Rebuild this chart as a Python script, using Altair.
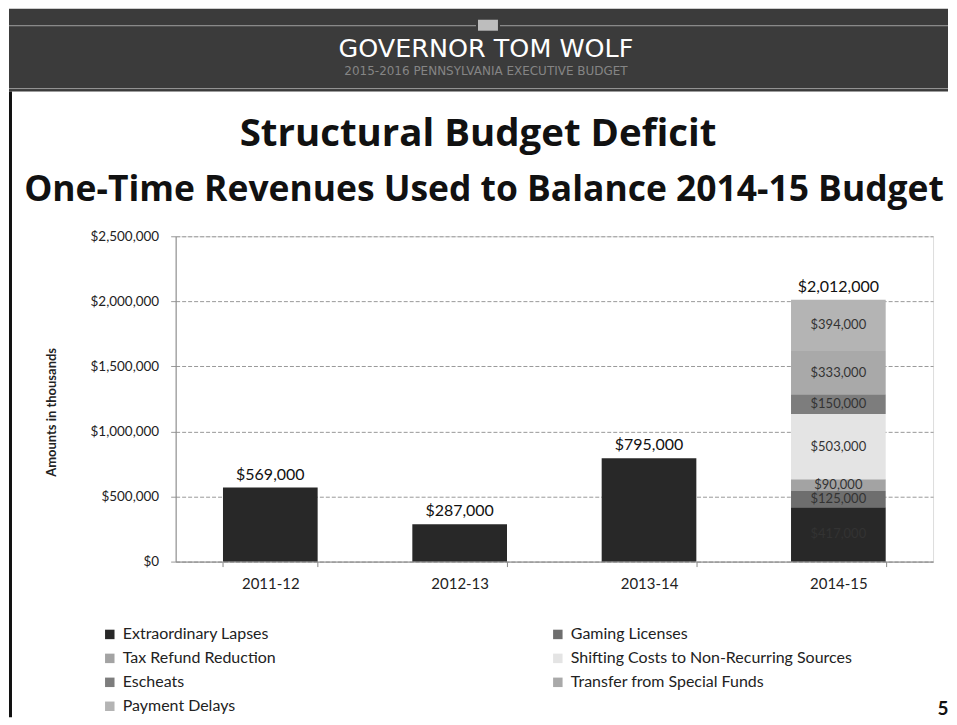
import altair as alt
import pandas as pd

years = ["2011-12", "2012-13", "2013-14", "2014-15"]
# stacking order (bottom to top) of the 2014-15 bar
sources = ["Extraordinary Lapses", "Gaming Licenses", "Tax Refund Reduction",
           "Shifting Costs to Non-Recurring Sources", "Escheats",
           "Transfer from Special Funds", "Payment Delays"]
colors = ["#282828", "#6e6e6e", "#a3a3a3", "#e4e4e4", "#7d7d7d", "#a9a9a9", "#b4b4b4"]
# legend order (column by column, as laid out in the legend)
legend_order = ["Extraordinary Lapses", "Tax Refund Reduction", "Escheats", "Payment Delays",
                "Gaming Licenses", "Shifting Costs to Non-Recurring Sources",
                "Transfer from Special Funds"]
lapses_earlier = [569000, 287000, 795000]
values_2014_15 = [417000, 125000, 90000, 503000, 150000, 333000, 394000]
y_ticks = [0, 500000, 1000000, 1500000, 2000000, 2500000]

header_title = "GOVERNOR TOM WOLF"
header_sub = "2015-2016 PENNSYLVANIA EXECUTIVE BUDGET"
main_title = "Structural Budget Deficit"
sub_title = "One-Time Revenues Used to Balance 2014-15 Budget"
page_no = "5"

rows = []
for yr, v in zip(years[:3], lapses_earlier):
    rows.append({"year": yr, "source": sources[0], "value": v, "order": 0})
for i, (s, v) in enumerate(zip(sources, values_2014_15)):
    rows.append({"year": years[3], "source": s, "value": v, "order": i})
df = pd.DataFrame(rows)

legend_colors = [colors[sources.index(s)] for s in legend_order]

FONT = "Lato"
W, H = 759, 326
y_scale = alt.Scale(domain=[0, 2500000], nice=False, zero=True)
x_scale = alt.Scale(paddingInner=0.5, paddingOuter=0.25)
Y_TITLE = "Amounts in thousands"

x_axis = alt.Axis(title=None, labelFontSize=15, labelColor="#222", labelFont=FONT,
                  labelPadding=10, tickSize=5, tickColor="#888", domainColor="#888",
                  tickBand="extent", labelAngle=0, grid=False)
y_axis = alt.Axis(values=y_ticks, format="$,.0f", title=Y_TITLE, titleFont=FONT,
                  titleFontSize=13, titleFontWeight="bold", titleColor="#222",
                  titleX=-124, titleY=176, titleAngle=270, titleAlign="center",
                  titleBaseline="middle",
                  labelFont=FONT, labelFontSize=13.5, labelColor="#222", labelPadding=12,
                  tickSize=5, tickColor="#999", domainColor="#888",
                  grid=True, gridColor="#999", gridDash=[4, 2], gridWidth=1)

bars = alt.Chart(df).mark_bar().encode(
    x=alt.X("year:N", sort=years, scale=x_scale, axis=x_axis),
    y=alt.Y("value:Q", stack="zero", scale=y_scale, axis=y_axis),
    color=alt.Color("source:N", scale=alt.Scale(domain=legend_order, range=legend_colors),
                    legend=alt.Legend(title=None, orient="none", legendX=-74, legendY=391,
                                      columns=2, columnPadding=274, rowPadding=8,
                                      labelFont=FONT, labelFontSize=16, labelColor="#222",
                                      symbolType="square", symbolSize=90,
                                      symbolStrokeWidth=0, labelOffset=5, padding=0,
                                      labelLimit=400)),
    order=alt.Order("order:Q", sort="ascending"),
)

seg = alt.Chart(df).transform_filter(alt.datum.year == "2014-15").transform_window(
    cum="sum(value)", sort=[alt.SortField("order", order="ascending")], frame=[None, 0]
).transform_calculate(mid="datum.cum - datum.value / 2").mark_text(
    font=FONT, fontSize=13, color="#333"
).encode(
    x=alt.X("year:N", sort=years, scale=x_scale),
    y=alt.Y("mid:Q", scale=y_scale, title=Y_TITLE),
    text=alt.Text("value:Q", format="$,.0f"),
)

tot = alt.Chart(df).transform_aggregate(total="sum(value)", groupby=["year"]).mark_text(
    font=FONT, fontSize=16, color="#111", baseline="bottom", dy=-5
).encode(
    x=alt.X("year:N", sort=years, scale=x_scale),
    y=alt.Y("total:Q", scale=y_scale, title=Y_TITLE),
    text=alt.Text("total:Q", format="$,.0f"),
)

one = pd.DataFrame({"k": [0]})
L, R = -167, 774
header = alt.Chart(one).mark_rect(color="#3b3b3b").encode(
    x=alt.value(L), x2=alt.value(R), y=alt.value(-228), y2=alt.value(-145))
hline1 = alt.Chart(one).mark_rule(color="#a0a0a0", strokeWidth=1).encode(
    x=alt.value(L), x2=alt.value(301), y=alt.value(-211))
hline2 = alt.Chart(one).mark_rule(color="#a0a0a0", strokeWidth=1).encode(
    x=alt.value(325), x2=alt.value(R), y=alt.value(-211))
hsq = alt.Chart(one).mark_rect(color="#bdbdbd").encode(
    x=alt.value(303), x2=alt.value(323), y=alt.value(-217), y2=alt.value(-206))
hline3 = alt.Chart(one).mark_rule(color="#9a9a9a", strokeWidth=1).encode(
    x=alt.value(L), x2=alt.value(R), y=alt.value(-148))
htext = alt.Chart(one).mark_text(font="DejaVu Sans", fontSize=25.5, color="white",
                                 align="center", baseline="alphabetic").encode(
    x=alt.value(311), y=alt.value(-180), text=alt.value(header_title))
hsub = alt.Chart(one).mark_text(font="DejaVu Sans", fontSize=12, color="#858585",
                                align="center", baseline="alphabetic").encode(
    x=alt.value(311), y=alt.value(-162), text=alt.value(header_sub))
border = alt.Chart(one).mark_rule(color="#111", strokeWidth=3).encode(
    x=alt.value(-165.5), y=alt.value(-145), y2=alt.value(482))
t1 = alt.Chart(one).mark_text(font="Open Sans", fontSize=38.5, fontWeight="bold", color="#111",
                              align="center", baseline="alphabetic").encode(
    x=alt.value(303), y=alt.value(-90), text=alt.value(main_title))
t2 = alt.Chart(one).mark_text(font="Open Sans", fontSize=35.5, fontWeight="bold", color="#111",
                              align="center", baseline="alphabetic").encode(
    x=alt.value(309), y=alt.value(-35), text=alt.value(sub_title))
pn = alt.Chart(one).mark_text(font=FONT, fontSize=19, fontWeight="bold", color="#111",
                              align="center", baseline="alphabetic").encode(
    x=alt.value(769), y=alt.value(480), text=alt.value(page_no))

chart = alt.layer(
    header, hline1, hline2, hsq, hline3, htext, hsub, border, t1, t2, pn,
    bars, seg, tot
).properties(width=W, height=H, padding=0).configure_view(stroke=None).configure(
    background="white")

chart.save("out.html", embed_options={"renderer": "svg", "actions": False})
